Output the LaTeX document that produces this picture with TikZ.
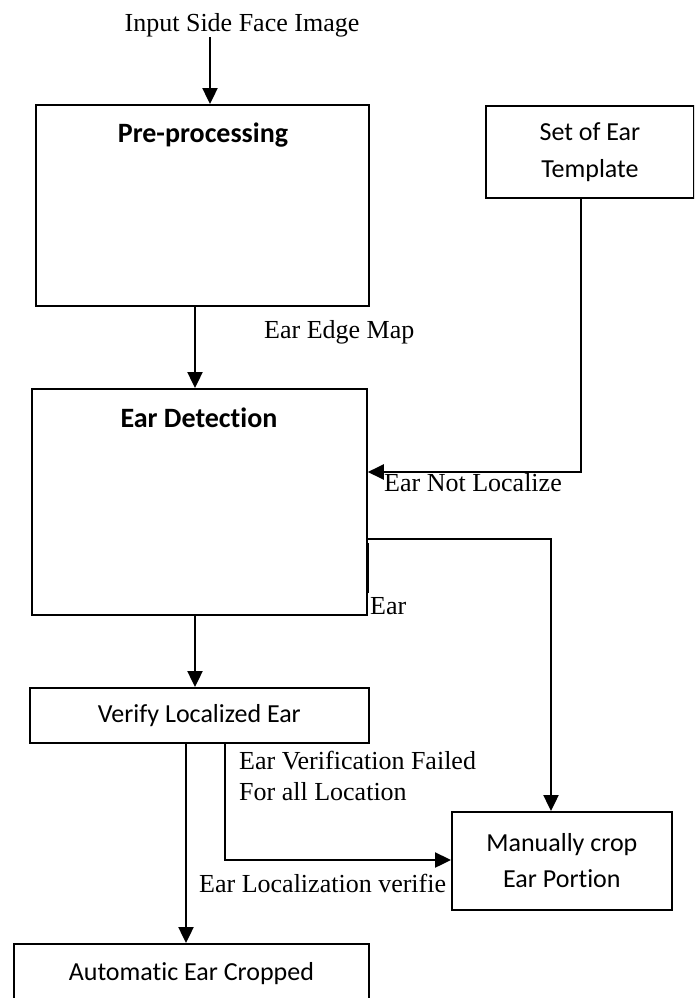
\documentclass[tikz,border=0pt]{standalone}
\usepackage{fontspec}
\setmainfont{Liberation Serif}
\newfontfamily\calfont[Ligatures={CommonOff,ContextualOff}]{Carlito}
\usetikzlibrary{arrows.meta}
\begin{document}
\begin{tikzpicture}[x=1pt,y=-1pt,
  box/.style={draw, line width=1.8pt, inner sep=0pt, anchor=north west, align=center,
    font=\calfont\fontsize{26}{37}\selectfont},
  title/.style={inner sep=0pt, font=\calfont\bfseries\fontsize{28}{32}\selectfont},
  lbl/.style={inner sep=0pt, anchor=west, font=\fontsize{26}{31}\selectfont},
  conn/.style={line width=2.4pt},
  arr/.style={conn, -{Triangle[length=16pt,width=15pt]}}]
\useasboundingbox (0,0) rectangle (694,998);
\clip (0,0) rectangle (694,998);
% boxes
\node[box, minimum width=333pt, minimum height=201pt] (pre) at (35,104) {};
\node[box, minimum width=208pt, minimum height=92pt] (set) at (485,105) {Set of Ear\\Template};
\node[box, minimum width=335pt, minimum height=226pt] (det) at (31,388) {};
\node[box, minimum width=339pt, minimum height=55pt] (verify) at (29,687) {Verify Localized Ear};
\node[box, minimum width=220pt, minimum height=98pt, font=\calfont\fontsize{26}{36}\selectfont] (manual) at (451,811) {Manually crop\\Ear Portion};
\node[box, minimum width=355pt, minimum height=60pt] (auto) at (13,943) {Automatic Ear Cropped};
% titles
\node[title] (pretitle) at (203,135) {Pre-processing};
\node[title] (dettitle) at (199,418) {Ear Detection};
\node[inner sep=0pt, font=\fontsize{26}{31}\selectfont] (input) at (242,25) {Input Side Face Image};
% labels
\node[lbl] (edgemap) at (264,332) {Ear Edge Map};
\node[lbl] (notloc) at (384,483) {Ear Not Localize};
\node[lbl] (ear) at (370,606) {Ear};
\node[lbl, align=left, font=\fontsize{26}{31}\selectfont] (failed) at (239,775.5) {Ear Verification Failed\\For all Location};
\node[lbl] (verified) at (199,883) {Ear Localization verifie};
% coordinates
\coordinate (x1) at (210,0);
\coordinate (x2) at (195,0);
\coordinate (x3) at (186,0);
\coordinate (x4) at (225,0);
\coordinate (c1) at (581,472);
\coordinate (c2) at (551,539);
\coordinate (c3) at (225,860);
\coordinate (s1) at (368,543);
\coordinate (s2) at (368,593);
% connectors
\draw[arr] (input.south -| x1) -- (pre.north -| x1);
\draw[arr] (pre.south -| x2) -- (det.north -| x2);
\draw[arr] (set.south -| c1) -- (c1) -- (det.east |- c1);
\draw[arr] (det.east |- c2) -- (c2) -- (manual.north -| c2);
\draw[conn] (s1) -- (s2);
\draw[arr] (det.south -| x2) -- (verify.north -| x2);
\draw[arr] (verify.south -| x3) -- (auto.north -| x3);
\draw[arr] (verify.south -| x4) -- (c3) -- (manual.west |- c3);
\end{tikzpicture}
\end{document}
